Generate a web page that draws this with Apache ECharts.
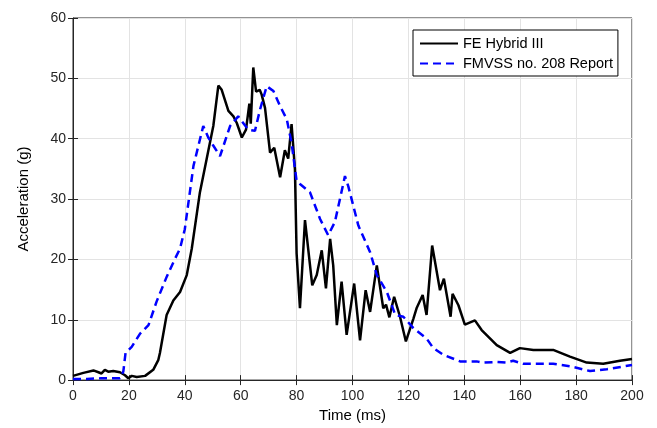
<!DOCTYPE html>
<html>
<head>
<meta charset="utf-8">
<script src="https://cdn.jsdelivr.net/npm/echarts@6/dist/echarts.min.js"></script>
<style>
  html, body { margin: 0; padding: 0; background: #fff; }
  #chart { width: 657px; height: 428px; }
</style>
</head>
<body>
<div id="chart"></div>
<script>
// time (ms) / acceleration (g)
const hybridTime = [0, 3.7, 7.3, 9.1, 10.2, 11.4, 12.6, 14.4, 16.8, 18.6, 19.8, 21, 22.8, 25.8, 28.7, 30.5,
  31.1, 33.5, 35.9, 38.3, 40.7, 42.5, 45.4, 47.8, 50.2, 52, 53.2, 55.6, 57.4, 58.6, 60.4, 61.9, 63.1, 63.6,
  64.5, 65.5, 66.8, 67.5, 68.7, 70.5, 72, 74.1, 75.8, 77, 78.2, 79.4, 80, 81.2, 83, 85.6, 87.2, 89, 90.5, 92,
  93.1, 94.4, 96.1, 97.9, 100.6, 102.7, 104.7, 106.3, 108.7, 111, 112, 113.2, 114.9, 117, 119.1, 121.8, 123,
  125.1, 126.5, 128.5, 131.3, 132.7, 135.1, 135.8, 137.9, 140.2, 143.8, 146.2, 151.6, 156.4, 159.9, 164.7,
  171.8, 177.8, 183.8, 189.7, 195.7, 200];
const hybridAccel = [0.7, 1.2, 1.6, 1.3, 1.1, 1.7, 1.4, 1.5, 1.3, 0.8, 0.3, 0.7, 0.5, 0.7, 1.7, 3.3,
  4.5, 10.8, 13.2, 14.6, 17.4, 21.8, 31.1, 36.6, 42.1, 48.8, 48.1, 44.6, 43.7, 42.6, 40.2, 41.5, 45.8, 42.5,
  51.8, 47.8, 48.1, 47.3, 45.1, 37.7, 38.5, 33.6, 38.1, 36.7, 42.4, 35, 21, 11.9, 26.5, 15.7, 17.4, 21.5, 15.2, 23.4,
  19, 9.1, 16.3, 7.5, 16, 6.6, 14.9, 11.3, 19, 11.9, 12.5, 10.4, 13.8, 10.5, 6.4, 10.2, 12,
  14.1, 10.8, 22.3, 14.9, 16.8, 10.5, 14.3, 12.4, 9.2, 9.9, 8.3, 5.8, 4.5, 5.3, 5.0,
  5.0, 3.9, 2.9, 2.7, 3.2, 3.5];

const reportTime = [0, 5, 10, 16.8, 18, 18.8, 21, 24, 27, 29.9, 33.5, 36.5, 38.3, 40, 43.1, 46.6, 48.4, 50,
  52.6, 56.2, 59.1, 62.7, 65.1, 66.9, 69.3, 71.7, 74.1, 76.5, 78.2, 80, 81.2, 84.8, 88.4, 91.3, 93.7, 97.3,
  98.5, 102.1, 106.3, 108.7, 112.3, 115.3, 118.2, 121.8, 126.5, 128.9, 132.5, 138.5, 144.4, 146.8, 151.6,
  155.1, 157.5, 161.1, 171.8, 177.8, 185, 191, 200];
const reportAccel = [0.2, 0.2, 0.3, 0.3, 1.4, 4.5, 5.5, 7.7, 9.1, 13, 17.1, 20.1, 21.8, 25, 35.5, 42.1, 40.2, 39,
  37.1, 42.1, 43.7, 41.5, 41.3, 44.8, 48.7, 47.9, 45.4, 43.2, 39.3, 33, 32.5, 31.1, 26.7, 24, 26.2, 33.8,
  32.1, 25.6, 21.2, 17.4, 14.6, 10.8, 10.5, 8.6, 6.9, 5.3, 4.2, 3.1, 3.1, 2.9, 3.0,
  2.9, 3.2, 2.7, 2.7, 2.3, 1.5, 1.8, 2.5];

const seriesNames = ['FE Hybrid III', 'FMVSS no. 208 Report'];

const pairs = (xs, ys) => xs.map((x, i) => [x, ys[i]]);

const font = 'Liberation Sans, Arial, sans-serif';
const ink = '#262626';

const chart = echarts.init(document.getElementById('chart'));
chart.setOption({
  animation: false,
  textStyle: { fontFamily: font },
  grid: {
    left: 73, right: 25, top: 18, bottom: 46,
    show: true, borderColor: ink, borderWidth: 1,
  },
  legend: {
    data: seriesNames,
    orient: 'vertical',
    left: 413,
    top: 30,
    itemWidth: 38,
    itemHeight: 14,
    itemGap: 5,
    padding: [6, 5, 5, 6],
    borderColor: '#000',
    borderWidth: 1,
    borderRadius: 0,
    backgroundColor: '#fff',
    itemStyle: { opacity: 0 }, // line only, no marker in the key
    textStyle: { fontSize: 14.5, color: '#000', fontFamily: font },
  },
  xAxis: [
    {
      type: 'value',
      min: 0, max: 200, interval: 20,
      name: 'Time (ms)',
      nameLocation: 'middle',
      nameGap: 25,
      nameTextStyle: { fontSize: 15, color: '#000' },
      axisLine: { lineStyle: { color: ink } },
      axisTick: { inside: true, length: 5, lineStyle: { color: ink } },
      axisLabel: { fontSize: 14, color: ink, margin: 9 },
      splitLine: { lineStyle: { color: '#e3e3e3' } },
    },
    {
      type: 'value', position: 'top',
      min: 0, max: 200, interval: 20,
      axisLine: { show: false },
      axisTick: { inside: true, length: 5, lineStyle: { color: ink } },
      axisLabel: { show: false },
      splitLine: { show: false },
    },
  ],
  yAxis: [
    {
      type: 'value',
      min: 0, max: 60, interval: 10,
      name: 'Acceleration (g)',
      nameLocation: 'middle',
      nameGap: 42,
      nameTextStyle: { fontSize: 15, color: '#000' },
      axisLine: { show: true, lineStyle: { color: ink } },
      axisTick: { show: true, inside: true, length: 5, lineStyle: { color: ink } },
      axisLabel: { fontSize: 14, color: ink, margin: 7 },
      splitLine: { lineStyle: { color: '#e3e3e3' } },
    },
    {
      type: 'value', position: 'right',
      min: 0, max: 60, interval: 10,
      axisLine: { show: false },
      axisTick: { show: true, inside: true, length: 5, lineStyle: { color: ink } },
      axisLabel: { show: false },
      splitLine: { show: false },
    },
  ],
  series: [
    {
      name: seriesNames[0],
      type: 'line',
      data: pairs(hybridTime, hybridAccel),
      symbol: 'none',
      color: '#000',
      lineStyle: { width: 2.5, color: '#000' },
    },
    {
      name: seriesNames[1],
      type: 'line',
      data: pairs(reportTime, reportAccel),
      symbol: 'none',
      color: '#0000ff',
      lineStyle: { width: 2.5, color: '#0000ff', type: [8, 5] },
    },
  ],
});
</script>
</body>
</html>
